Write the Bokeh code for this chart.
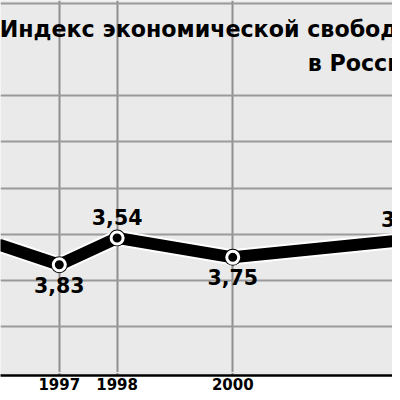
from bokeh.plotting import figure
from bokeh.models import Range1d, FixedTicker, Grid, Label, ColumnDataSource
from bokeh.core.properties import value
from bokeh.embed import file_html
from bokeh.resources import INLINE

# ---- data ----
years = [1996, 1997, 1998, 2000, 2003]
index_values = [3.62, 3.83, 3.54, 3.75, 3.56]
marker_years = [1997, 1998, 2000, 2003]
marker_values = [3.83, 3.54, 3.75, 3.56]
below_years = [1997, 2000]
below_values = [3.83, 3.75]
above_years = [1998, 2003]
above_values = [3.54, 3.56]
tick_years = [1997, 1998, 2000, 2003]
tick_labels = ["1997", "1998", "2000", "2003"]
grid_values = [1.0, 2.0, 2.5, 3.0, 3.5, 4.0, 4.5]
title_line1 = "Индекс экономической свободы"
title_line2 = "в России"


def fmt(v):
    return f"{v:.2f}".replace(".", ",")


p = figure(width=392, height=392, output_backend="svg", toolbar_location=None,
           x_range=Range1d(1995.983, 2002.763), y_range=Range1d(5.03, 0.968),
           y_axis_location=None, min_border_left=0, min_border_right=0,
           min_border_top=0, min_border_bottom=0)
p.background_fill_color = "#eaeaea"
p.border_fill_color = "white"
p.outline_line_color = None

# grids
p.xgrid.ticker = FixedTicker(ticks=tick_years)
p.xgrid.grid_line_color = "#8f8f8f"
p.xgrid.grid_line_width = 2
ygrid = Grid(dimension=1, ticker=FixedTicker(ticks=grid_values),
             grid_line_color="#9a9a9a", grid_line_width=2)
p.add_layout(ygrid)

# x axis
p.xaxis.ticker = FixedTicker(ticks=tick_years)
p.xaxis.major_label_overrides = {y: t for y, t in zip(tick_years, tick_labels)}
p.xaxis.axis_line_color = "black"
p.xaxis.axis_line_width = 2.5
p.xaxis.major_tick_line_color = None
p.xaxis.minor_tick_line_color = None
p.xaxis.major_tick_out = 0
p.xaxis.major_label_standoff = 2
p.xaxis.major_label_text_font = "DejaVu Sans"
p.xaxis.major_label_text_font_style = "bold"
p.xaxis.major_label_text_font_size = "15px"
p.xaxis.major_label_text_color = "black"

# line with halo
p.line(years, index_values, line_width=16, line_color="white", line_join="round")
p.line(years, index_values, line_width=12, line_color="black", line_join="round",
       line_cap="round")

# markers
p.scatter(marker_years, marker_values, size=17, fill_color="black", line_color=None)
p.scatter(marker_years, marker_values, size=12, fill_color="black",
          line_color="white", line_width=3)

# value labels
src_below = ColumnDataSource(dict(x=below_years, y=below_values,
                                  t=[fmt(v) for v in below_values]))
src_above = ColumnDataSource(dict(x=above_years, y=above_values,
                                  t=[fmt(v) for v in above_values]))
p.text(x="x", y="y", text="t", source=src_below, text_align="center",
       text_baseline="top", y_offset=12, text_font=value("DejaVu Sans"),
       text_font_style="bold", text_font_size="20.5px", text_color="black")
p.text(x="x", y="y", text="t", source=src_above, text_align="center",
       text_baseline="alphabetic", y_offset=-21, text_font=value("DejaVu Sans"),
       text_font_style="bold", text_font_size="20.5px", text_color="black")

# title inside the plot
for txt, yy in [(title_line1, 1.28), (title_line2, 1.645)]:
    p.add_layout(Label(x=2003.21, y=yy, x_units="data", y_units="data", text=txt,
                       text_align="right", text_baseline="alphabetic",
                       text_font="DejaVu Sans", text_font_style="bold",
                       text_font_size="22.2px", text_color="black"))

open("out.html", "w").write(file_html(p, INLINE))
